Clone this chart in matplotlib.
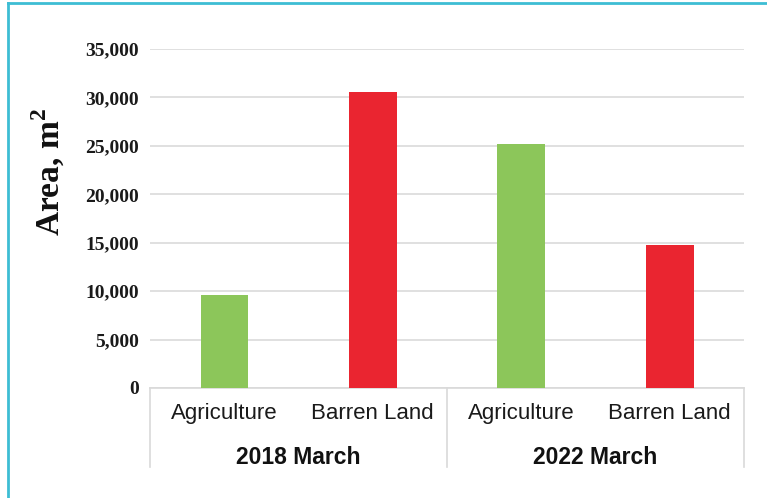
import matplotlib.pyplot as plt
from matplotlib.lines import Line2D
from matplotlib.ticker import FuncFormatter

# Land cover area
categories = ['Agriculture', 'Barren Land', 'Agriculture', 'Barren Land']
groups = ['2018 March', '2022 March']
areas = [9600, 30600, 25200, 14800]
colors = ['#8cc65a', '#ea2530', '#8cc65a', '#ea2530']
y_ticks = [0, 5000, 10000, 15000, 20000, 25000, 30000, 35000]

plt.rcParams['mathtext.fontset'] = 'custom'
plt.rcParams['mathtext.bf'] = 'Liberation Serif:bold'
plt.rcParams['mathtext.rm'] = 'Liberation Serif:bold'

fig = plt.figure(figsize=(7.67, 4.98), dpi=100)
ax = fig.add_axes([0.1956, 0.2209, 0.7744, 0.6807])

x = list(range(len(areas)))
ax.bar(x, areas, width=0.32, color=colors, zorder=3)

ax.set_xlim(-0.5, 3.5)
ax.set_ylim(0, 35000)
ax.set_yticks(y_ticks)
ax.yaxis.set_major_formatter(FuncFormatter(lambda v, p: f'{int(v):,}'))
ax.grid(axis='y', color='#e0e0e0', linewidth=1.4, zorder=0)
for s in ['top', 'right', 'left']:
    ax.spines[s].set_visible(False)
ax.spines['bottom'].set_color('#d9d9d9')
ax.spines['bottom'].set_linewidth(1.2)
ax.tick_params(axis='y', length=0, pad=8)
ax.tick_params(axis='x', length=0)
for lab in ax.get_yticklabels():
    lab.set_fontfamily('Liberation Serif')
    lab.set_fontweight('bold')
    lab.set_fontsize(14)
    lab.set_color('#1a1a1a')
ax.set_xticks([])

# category and group labels below the axis
trans = ax.get_xaxis_transform()
for xi, name in zip(x, categories):
    ax.text(xi, -0.074, name, transform=trans, ha='center', va='center',
            fontfamily='Liberation Sans', fontsize=16, color='#1a1a1a')
for gi, g in enumerate(groups):
    ax.text(gi * 2 + 0.5, -0.206, g, transform=trans, ha='center', va='center',
            fontfamily='Liberation Sans', fontweight='bold', fontsize=16.5, color='#111111')
for sx in [-0.5, 1.5, 3.5]:
    ax.add_line(Line2D([sx, sx], [0, -0.233], transform=trans, color='#d9d9d9',
                       linewidth=1.2, clip_on=False))

fig.text(0.063, 0.655, 'Area, m$^{\\mathbf{2}}$', rotation=90, ha='center', va='center',
         fontfamily='Liberation Serif', fontweight='bold', fontsize=24, color='#111111')

# cyan frame around the figure
fig.add_artist(Line2D([0.0104, 1.0], [0.994, 0.994], transform=fig.transFigure,
                      color='#3dbdd4', linewidth=2))
fig.add_artist(Line2D([0.0104, 0.0104], [0.0, 0.994], transform=fig.transFigure,
                      color='#3dbdd4', linewidth=2))

fig.savefig('out.png', dpi=100)
